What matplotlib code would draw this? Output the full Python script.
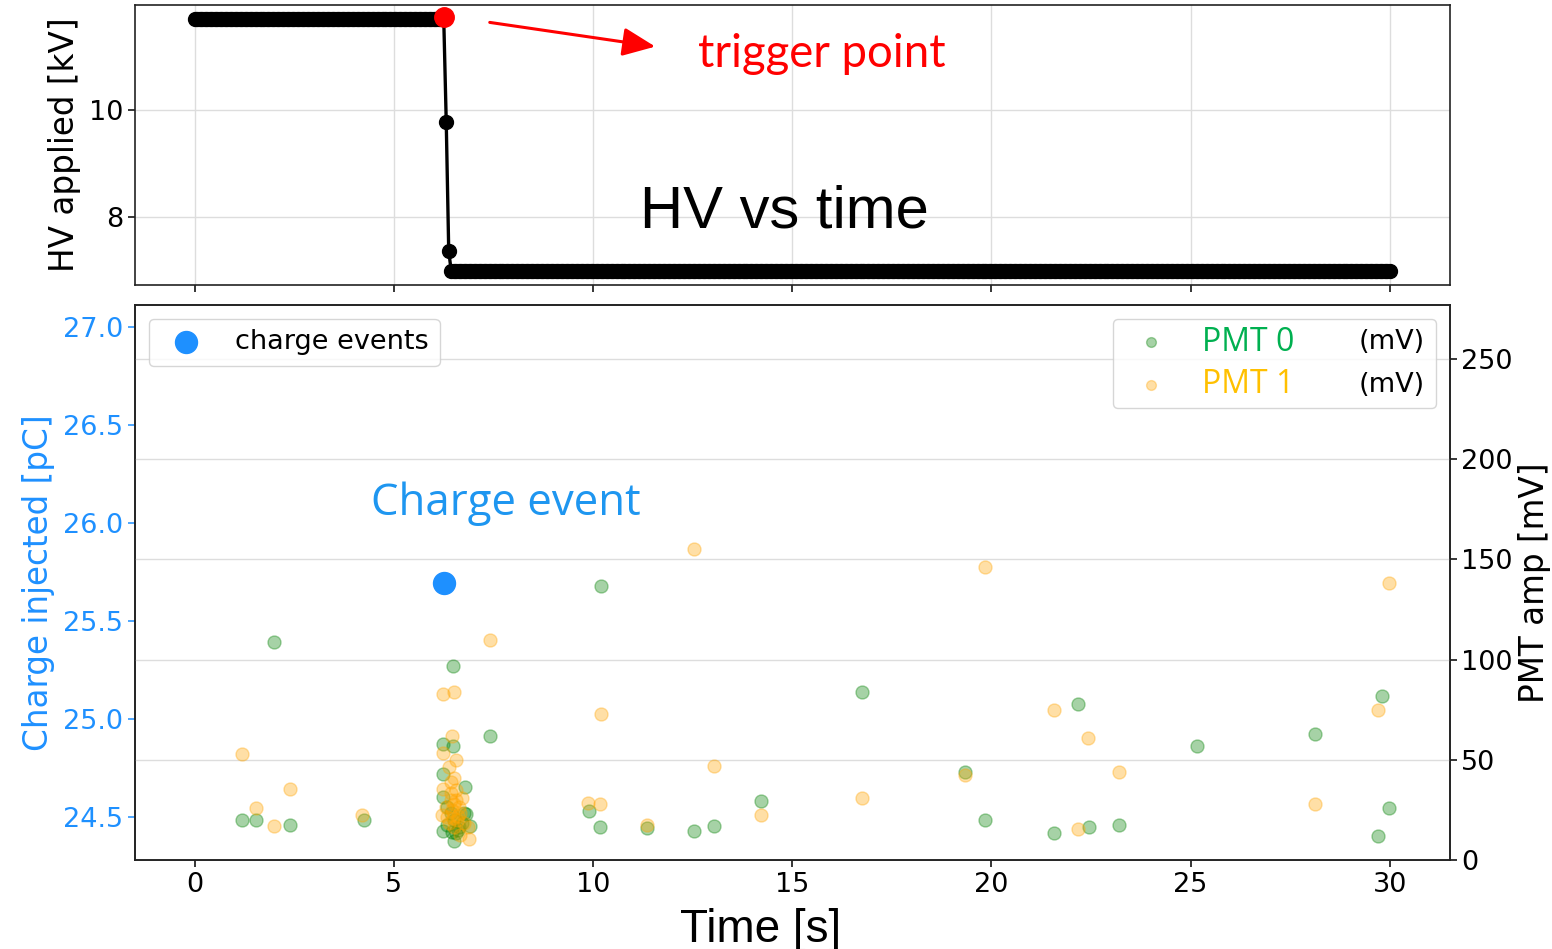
import numpy as np
import matplotlib.pyplot as plt
from matplotlib.patches import FancyArrowPatch
from matplotlib.transforms import IdentityTransform

# --------------------
# HV readback [kV], sampled every 1/16 s between 0 and 30 s
hv_dt = 0.0625
hv_t_end = 30.0
hv_high = 11.72
hv_low = 6.98
trigger_t = 6.25
hv_ramp = [9.79, 7.36]   # the two samples just after the trigger

# charge injection [pC]
charge_t = [6.25]
charge_pc = [25.69]

# PMT amplitudes [mV]
pmt0_t = [1.18, 1.53, 1.98, 2.38, 4.24,
          6.49, 6.24, 6.47, 6.24, 6.78, 6.23, 6.80, 6.23, 6.52, 6.90,
          6.34, 6.42, 6.76, 6.63, 6.46, 6.55, 6.71, 6.34, 6.50, 6.60,
          7.40, 9.90, 10.18, 10.21, 11.36, 12.52, 13.04, 14.22, 16.75,
          19.34, 19.84, 21.57, 22.17, 22.45, 23.20, 25.16, 28.12,
          29.70, 29.80, 29.97]
pmt0_mv = [20, 20, 109, 17.5, 20,
           97, 58, 57, 43, 36.4, 31.6, 23, 14.6, 9.6, 17,
           26.6, 23.3, 23.3, 16.6, 14.1, 13.3, 18.3, 17.5, 20, 15,
           62, 24.5, 16.5, 137, 16, 14.5, 17, 29.5, 84,
           44, 20, 13.5, 78, 16.5, 17.5, 57, 63,
           12, 82, 26]

pmt1_t = [1.18, 1.53, 1.98, 2.38, 4.21,
          6.45, 6.24, 6.50, 6.24, 6.57, 6.38, 6.50, 6.23, 6.71, 6.21,
          6.89, 6.86, 6.42, 6.55, 6.63, 6.46, 6.34, 6.59, 6.67, 6.50,
          6.38, 6.76, 6.30, 6.55, 6.42, 6.52, 6.60, 6.48, 6.65, 6.44,
          7.40, 9.88, 10.18, 10.21, 11.36, 12.52, 13.04, 14.22, 16.75,
          19.34, 19.84, 21.57, 22.17, 22.42, 23.20, 28.12, 29.70, 29.97]
pmt1_mv = [53, 26, 17, 35.5, 22.5,
           62, 83, 84, 53.5, 50, 46.5, 40.7, 35.5, 30.7, 22.5,
           10.3, 16.6, 33.3, 29.9, 26.6, 25.0, 21.6, 20.0, 23.3, 16.6,
           18.3, 18.3, 26.6, 34.9, 39.1, 28, 22, 21, 12.5, 30,
           110, 28.5, 28, 73, 17.5, 155, 47, 22.5, 31,
           42.5, 146, 75, 15.5, 61, 44, 28, 75, 138]

x_ticks = [0, 5, 10, 15, 20, 25, 30]
hv_ticks = [8, 10]
charge_ticks = [24.5, 25.0, 25.5, 26.0, 26.5, 27.0]
pmt_ticks = [0, 50, 100, 150, 200, 250]

# HV trace
hv_t = np.arange(0, hv_t_end + hv_dt / 2, hv_dt)
hv = np.full(len(hv_t), hv_low)
i_trig = int(round(trigger_t / hv_dt))
hv[:i_trig + 1] = hv_high
hv[i_trig + 1:i_trig + 1 + len(hv_ramp)] = hv_ramp

# ---------------------
blue = "#1E90FF"
fs_tick = 19.5
fs_label = 23.5
fs_leg = 19.5

fig = plt.figure(figsize=(15.52, 9.49), dpi=100)
ax_hv = fig.add_axes([0.087, 0.6997, 0.847, 0.295])
ax_q = fig.add_axes([0.087, 0.0938, 0.847, 0.5848])
ax_pmt = ax_q.twinx()

for a in (ax_hv, ax_q, ax_pmt):
    for s in a.spines.values():
        s.set_linewidth(1.2)
        s.set_color("#222222")
    a.tick_params(labelsize=fs_tick, length=5, width=1.1)

# Top: HV vs time
ax_hv.plot(hv_t, hv, color="black", marker="o", markersize=10, linewidth=2.4)
ax_hv.plot(hv_t[i_trig], hv[i_trig] + 0.04, "o", color="red", markersize=14, zorder=5)
ax_hv.set_xlim(-1.5, 31.5)
ax_hv.set_ylim(6.72, 11.98)
ax_hv.set_xticks(x_ticks)
ax_hv.set_xticklabels([])
ax_hv.set_yticks(hv_ticks)
ax_hv.set_ylabel("HV applied [kV]", fontsize=fs_label, labelpad=6)
ax_hv.grid(color="#dddddd", linewidth=1)
ax_hv.set_axisbelow(True)

# Bottom: charge + PMT amplitudes
sc_q = ax_q.scatter(charge_t, charge_pc, s=250, color=blue, label="charge events")
ax_q.set_xlim(-1.5, 31.5)
ax_q.set_ylim(24.28, 27.11)
ax_q.set_xticks(x_ticks)
ax_q.set_yticks(charge_ticks)
ax_q.set_yticklabels([f"{v:.1f}" for v in charge_ticks])
ax_q.tick_params(axis="y", colors=blue)
ax_q.set_ylabel("Charge injected [pC]", fontsize=fs_label, color=blue, labelpad=6)

ax_pmt.scatter(pmt0_t, pmt0_mv, s=88, color="green", alpha=0.35, label="PMT 0 amp (mV)")
ax_pmt.scatter(pmt1_t, pmt1_mv, s=88, color="orange", alpha=0.35, label="PMT 1 amp (mV)")
ax_pmt.set_ylim(0, 277)
ax_pmt.set_yticks(pmt_ticks)
ax_pmt.set_ylabel("PMT amp [mV]", fontsize=fs_label)
ax_pmt.grid(axis="y", color="#dddddd", linewidth=1)
ax_pmt.set_axisbelow(True)

leg_q = ax_pmt.legend(handles=[sc_q], loc="upper left", fontsize=fs_leg)
ax_pmt.add_artist(leg_q)
leg_pmt = ax_pmt.legend(loc="upper right", fontsize=fs_leg, markerscale=0.75,
                        labelspacing=0.6)

# x label (slide font)
fig.text(680 / 1552, 1 - 942 / 949, "Time [s]", fontsize=33,
         family="Liberation Sans", va="baseline")

# relabel the PMT legend entries: coloured name, unit kept in black
fig.canvas.draw()
rend = fig.canvas.get_renderer()
for txt, name, col in zip(leg_pmt.get_texts(), ["PMT 0", "PMT 1"], ["#00B050", "#FFC000"]):
    bb = txt.get_window_extent(rend)
    txt.set_alpha(0)
    yc = (bb.y0 + bb.y1) / 2
    fig.text(bb.x0 + 3, yc, name, color=col, fontsize=23, family="Open Sans",
             va="center", transform=IdentityTransform())
    fig.text(bb.x1, yc, "(mV)", color="black", fontsize=fs_leg,
             ha="right", va="center", transform=IdentityTransform())

# slide annotations
fig.text(698 / 1552, 1 - 54 / 949, "trigger point", color="red", fontsize=32.8,
         family="Lato", va="center")
fig.text(640 / 1552, 1 - 228 / 949, "HV vs time", color="black", fontsize=43,
         family="Liberation Sans", va="baseline")
fig.text(371 / 1552, 1 - 515 / 949, "Charge event", color="#1E96F0", fontsize=31.5,
         family="Open Sans", va="baseline")
arrow = FancyArrowPatch((487 / 1552, 1 - 22 / 949), (658 / 1552, 1 - 47 / 949),
                        transform=fig.transFigure, arrowstyle="-|>,head_length=8,head_width=3.5",
                        color="red", linewidth=2.2, mutation_scale=2.5)
fig.add_artist(arrow)

plt.savefig("out.png", dpi=100)
